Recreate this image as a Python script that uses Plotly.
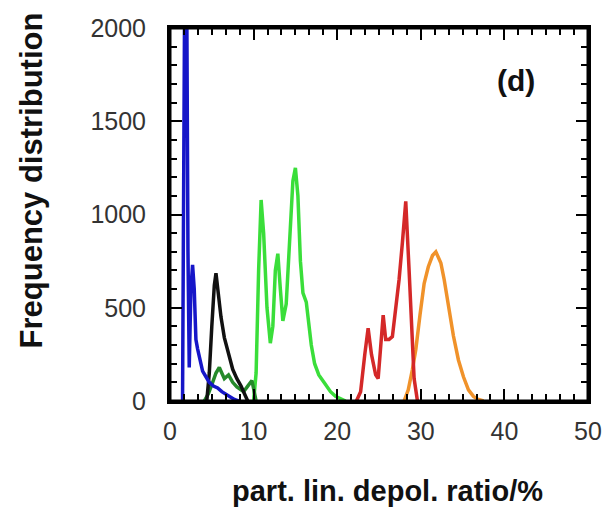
import plotly.graph_objects as go

# ---- data ----
blue_x = [1.3, 1.5, 1.8, 2.0, 2.15, 2.3, 2.5, 2.7, 2.9, 3.1, 3.3, 3.6, 3.9, 4.3, 4.7, 5.2, 5.7, 6.2, 6.7, 7.2, 7.7, 8.2]
blue_y = [0, 0, 2600, 2200, 800, 180, 600, 730, 600, 330, 280, 220, 160, 130, 100, 80, 70, 50, 35, 20, 8, 0]

black_x = [4.4, 4.7, 5.0, 5.3, 5.5, 5.8, 6.1, 6.5, 7.0, 7.5, 8.0, 8.5, 9.0, 9.3]
black_y = [0, 150, 400, 620, 685, 560, 450, 340, 250, 170, 120, 80, 30, 0]

dgreen_x = [4.1, 4.6, 5.1, 5.5, 5.9, 6.5, 7.0, 7.5, 8.0, 8.8, 9.3, 9.8, 10.3]
dgreen_y = [0, 40, 100, 150, 180, 120, 140, 100, 75, 50, 80, 110, 0]

green_x = [10.0, 10.3, 10.6, 10.9, 11.2, 11.6, 12.0, 12.3, 12.6, 12.9, 13.2, 13.5, 13.9, 14.3, 14.7, 15.0,
           15.3, 15.6, 15.9, 16.3, 16.6, 16.9, 17.3, 17.8, 18.5, 19.2, 19.8, 20.5, 21.0]
green_y = [0, 150, 700, 1078, 900, 500, 310, 400, 700, 790, 600, 430, 520, 850, 1180, 1250,
           1100, 750, 580, 530, 420, 300, 200, 140, 95, 50, 25, 8, 0]

red_x = [22.3, 22.8, 23.3, 23.7, 24.1, 24.6, 24.9, 25.2, 25.5, 25.8, 26.2, 26.6, 27.0, 27.4, 27.8, 28.2,
         28.6, 28.9, 29.2, 29.6]
red_y = [0, 50, 250, 390, 250, 140, 120, 300, 460, 330, 330, 345, 480, 650, 850, 1070,
         700, 400, 120, 0]

orange_x = [28.0, 28.5, 29.0, 29.4, 29.9, 30.4, 30.9, 31.4, 31.8, 32.1, 32.4, 32.8, 33.3, 33.9, 34.5,
            35.1, 35.7, 36.3, 36.8, 37.5]
orange_y = [0, 60, 170, 275, 460, 630, 720, 780, 800, 770, 740, 650, 500, 350, 220,
            130, 60, 25, 10, 0]

x_ticks = [0, 10, 20, 30, 40, 50]
y_ticks = [0, 500, 1000, 1500, 2000]

FONT = "Arial, Liberation Sans, sans-serif"

fig = go.Figure()
series = [
    (orange_x, orange_y, "#f0922a"),
    (red_x, red_y, "#d42828"),
    (green_x, green_y, "#3ade3a"),
    (dgreen_x, dgreen_y, "#258a2a"),
    (black_x, black_y, "#111111"),
    (blue_x, blue_y, "#1616c8"),
]
for xs, ys, col in series:
    fig.add_trace(go.Scatter(x=xs, y=ys, mode="lines",
                             line=dict(color=col, width=3.5), showlegend=False))

axis_common = dict(
    showgrid=False, zeroline=False, showline=True, linecolor="black", linewidth=3,
    mirror="allticks", ticks="inside", ticklen=12, tickwidth=2, tickcolor="black",
    tickfont=dict(family=FONT, size=25, color="#333333"),
)

x_step = x_ticks[1] - x_ticks[0]
y_step = y_ticks[1] - y_ticks[0]

fig.update_xaxes(range=[x_ticks[0], x_ticks[-1]], tickmode="linear", tick0=x_ticks[0], dtick=x_step,
                 minor=dict(dtick=x_step / 6, ticklen=7, tickwidth=2, ticks="inside", tickcolor="black"),
                 ticklabelstandoff=6, **axis_common)
fig.update_yaxes(range=[y_ticks[0], y_ticks[-1]], tickmode="linear", tick0=y_ticks[0], dtick=y_step,
                 minor=dict(dtick=y_step / 5, ticklen=7, tickwidth=2, ticks="inside", tickcolor="black"),
                 ticklabelstandoff=16, **axis_common)

# frame
fig.add_shape(type="rect", xref="paper", yref="paper", x0=0, y0=0, x1=1, y1=1,
              line=dict(color="black", width=3), layer="above")

fig.add_annotation(x=41.4, y=1716, xref="x", yref="y", text="<b>(d)</b>", showarrow=False,
                   font=dict(family=FONT, size=30, color="#111111"))
fig.add_annotation(x=0.52, y=-0.2413, xref="paper", yref="paper", text="<b>part. lin. depol. ratio/%</b>",
                   showarrow=False, xanchor="center", yanchor="middle",
                   font=dict(family=FONT, size=29, color="#111111"))
fig.add_annotation(x=-0.329, y=0.5925, xref="paper", yref="paper", text="<b>Frequency distribution</b>",
                   showarrow=False, xanchor="center", yanchor="middle", textangle=-90,
                   font=dict(family=FONT, size=31, color="#111111"))

fig.update_layout(
    width=614, height=509,
    margin=dict(l=170, r=19, t=28, b=108),
    paper_bgcolor="white", plot_bgcolor="white",
)

# remove the browser's default page margin so the figure sits at the window origin
fig.write_html("out.html", config={"displayModeBar": False},
               post_script="document.body.style.margin='0';document.body.style.overflow='hidden';")
